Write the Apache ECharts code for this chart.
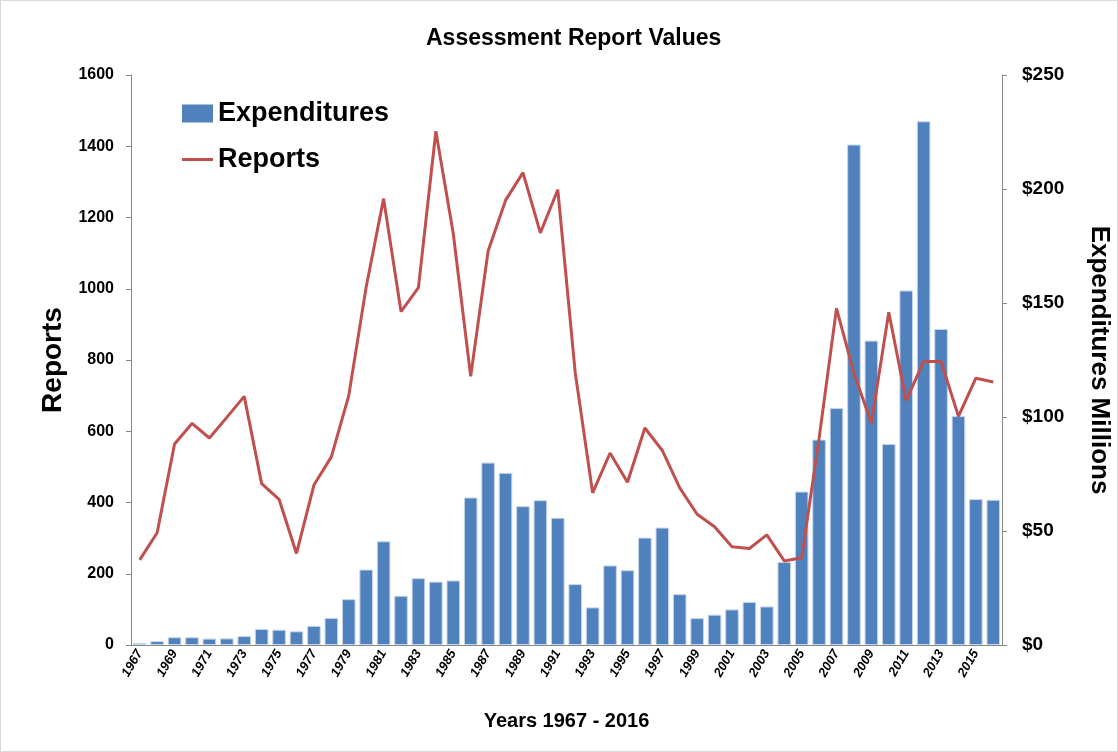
<!DOCTYPE html>
<html><head><meta charset="utf-8">
<script src="https://cdn.jsdelivr.net/npm/echarts@6/dist/echarts.min.js"></script>
<style>html,body{margin:0;padding:0;background:#fff}#c{width:1118px;height:752px;box-sizing:border-box;border:1px solid #d9d9d9}</style>
</head><body><div id="c"></div>
<script>
const years = [];
for (let y = 1967; y <= 2016; y++) years.push(String(y));
const expenditures = [0.9,1.7,3.4,3.4,2.8,2.9,3.9,7.0,6.7,6.0,8.4,11.9,20.1,33.1,45.5,21.6,29.3,27.8,28.3,64.7,80.0,75.5,60.9,63.5,55.8,26.7,16.5,34.9,32.8,47.1,51.5,22.3,11.8,13.3,15.6,18.9,16.9,36.4,67.3,90.1,103.9,219.5,133.5,88.2,155.5,229.7,138.6,100.4,64.0,63.7];
const reports = [239,315,564,622,581,639,698,453,409,257,449,528,700,1005,1253,936,1003,1442,1155,754,1106,1248,1326,1157,1278,765,427,539,457,609,546,441,367,332,276,271,309,236,245,580,945,763,623,934,686,796,796,642,749,738];
const FONT = '"Liberation Sans", sans-serif';
const legendText = { fontFamily: FONT, fontWeight: 'bold', fontSize: 27, color: '#000' };
const chart = echarts.init(document.getElementById('c'));
chart.setOption({
  animation: false,
  title: { text: 'Assessment Report Values', left: 420, top: 21,
    textStyle: { fontFamily: FONT, fontWeight: 'bold', fontSize: 23, color: '#000' } },
  legend: [
    { left: 181, top: 99, padding: 0, itemWidth: 31, itemHeight: 18, itemGap: 5,
      itemStyle: { borderWidth: 0 },
      textStyle: legendText, data: [{ name: 'Expenditures', icon: 'rect' }] },
    { left: 181, top: 145, padding: 0, itemWidth: 31, itemHeight: 3, itemGap: 5,
      textStyle: legendText, data: [{ name: 'Reports', icon: 'rect' }] }
  ],
  grid: { left: 130, right: 115, top: 74, bottom: 106, outerBoundsMode: 'none', containLabel: false },
  xAxis: { type: 'category', data: years,
    name: 'Years 1967 - 2016', nameLocation: 'middle', nameGap: 66,
    nameTextStyle: { fontFamily: FONT, fontWeight: 'bold', fontSize: 20, color: '#000' },
    axisLine: { lineStyle: { color: '#868686' } }, axisTick: { show: false },
    axisLabel: { interval: 1, rotate: 60, fontFamily: FONT, fontWeight: 'bold', fontStyle: 'italic', fontSize: 13, color: '#000', margin: 6 } },
  yAxis: [
    { type: 'value', min: 0, max: 1600, interval: 200, name: 'Reports', nameLocation: 'middle', nameGap: 64, nameRotate: 90,
      nameTextStyle: { fontFamily: FONT, fontWeight: 'bold', fontSize: 28, color: '#000' },
      axisLine: { show: true, lineStyle: { color: '#868686' } }, axisTick: { show: true, length: 5, lineStyle: { color: '#868686' } },
      splitLine: { show: false },
      axisLabel: { formatter: v => String(v), fontFamily: FONT, fontWeight: 'bold', fontSize: 16, color: '#000', margin: 17 } },
    { type: 'value', min: 0, max: 250, interval: 50, name: 'Expenditures Millions', nameLocation: 'middle', nameGap: 84, nameRotate: -90,
      nameTextStyle: { fontFamily: FONT, fontWeight: 'bold', fontSize: 26, color: '#000' },
      axisLine: { show: true, lineStyle: { color: '#868686' } }, axisTick: { show: true, length: 5, lineStyle: { color: '#868686' } },
      splitLine: { show: false },
      axisLabel: { formatter: v => '$' + v, fontFamily: FONT, fontWeight: 'bold', fontSize: 19, color: '#000', margin: 20 } }
  ],
  series: [
    { name: 'Expenditures', type: 'bar', yAxisIndex: 1, data: expenditures, barCategoryGap: '22%',
      itemStyle: { color: '#4F81BD', borderColor: '#c6d6ea', borderWidth: 1 } },
    { name: 'Reports', type: 'line', yAxisIndex: 0, data: reports, symbol: 'none',
      lineStyle: { color: '#C0504D', width: 3 }, itemStyle: { color: '#C0504D' } }
  ]
});
</script></body></html>
